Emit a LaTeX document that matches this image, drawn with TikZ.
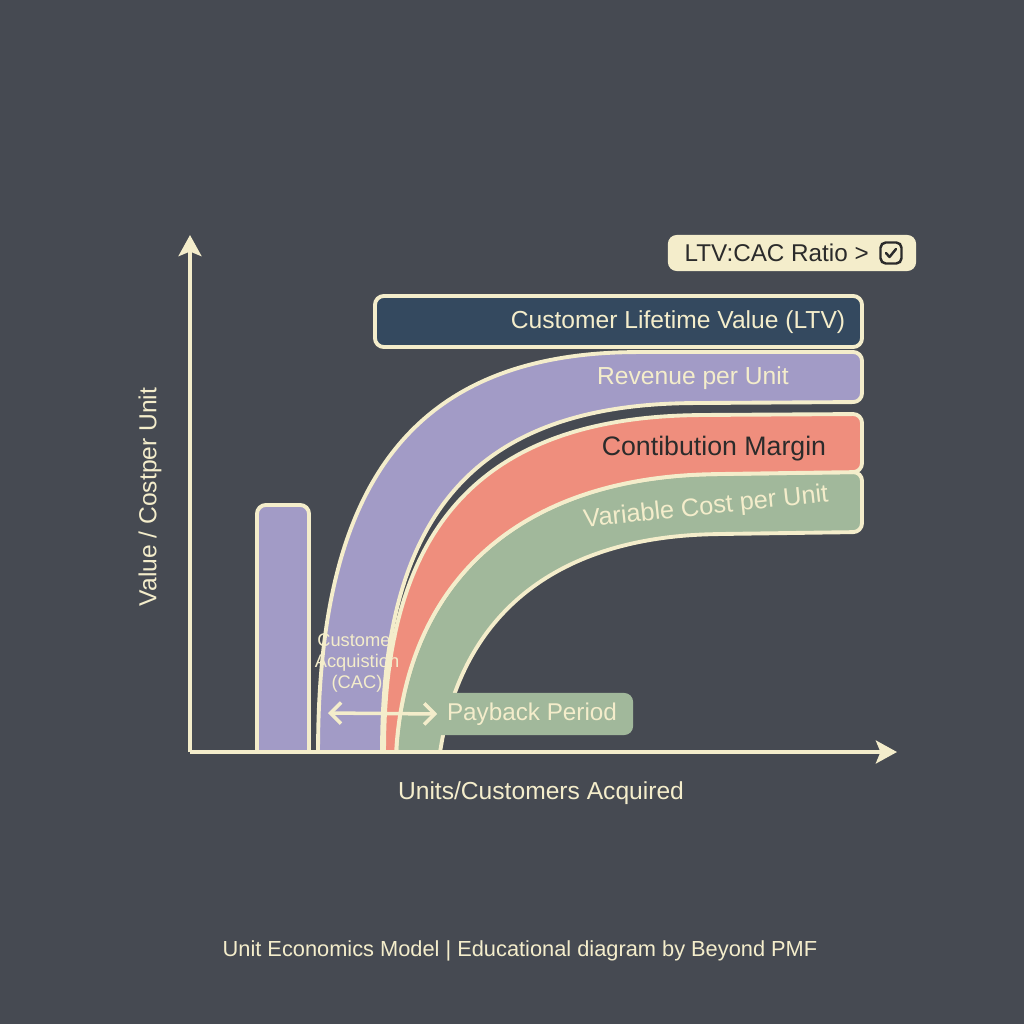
\documentclass[tikz,border=0pt]{standalone}
\usepackage{fontspec}
\setmainfont{Liberation Sans}
\usetikzlibrary{arrows.meta}

\definecolor{bgdark}{HTML}{464A52}
\definecolor{cream}{HTML}{F4EDCB}
\definecolor{lilac}{HTML}{A29BC6}
\definecolor{navy}{HTML}{34495F}
\definecolor{salmon}{HTML}{EF8E7D}
\definecolor{sage}{HTML}{A1B89B}
\definecolor{ink}{HTML}{2B2B2B}

\tikzset{
  band/.style={draw=cream, line width=1.1pt, rounded corners=2.5pt},
  lbl/.style={text=cream, inner sep=0pt, font=\fontsize{7}{8}\selectfont},
  axis/.style={draw=cream, line width=1.1pt, -{Stealth[length=6pt,width=6.5pt,inset=1.3pt]}}
}

\begin{document}
\begin{tikzpicture}[x=0.01cm, y=-0.01cm]
    \fill[bgdark] (0,0) rectangle (1024,1024);
    \useasboundingbox (0,0) rectangle (1024,1024);

    \coordinate (O) at (190,752);
    \coordinate (Ytip) at (190,235);
    \coordinate (Xtip) at (897,752);

    \begin{scope}
    \clip (0,0) rectangle (1024,752);
    \draw[band, fill=lilac] (257,780) -- (257,505) -- (309,505) -- (309,780) -- cycle;

    \draw[band, fill=sage] (396,780) -- (396,752) .. controls (410,580) and (520,478) .. (720,474) -- (862,472)
        -- (862,532) -- (720,534) .. controls (560,538) and (465,610) .. (440,752) -- (436,780) -- cycle;
    \draw[band, fill=salmon] (384,780) -- (384,752) .. controls (386,540) and (470,420) .. (700,415) -- (862,414)
        -- (862,472) -- (720,474) .. controls (520,478) and (410,580) .. (396,752) -- (396,780) -- cycle;
    \draw[band, fill=lilac] (318,780) -- (318,752) .. controls (320,500) and (400,355) .. (640,352) -- (862,352)
        -- (862,402) -- (700,403) .. controls (470,405) and (384,520) .. (382,752) -- (382,780) -- cycle;
    \end{scope}

    \draw[band, fill=navy] (375,296) rectangle (862,347);
    \node[lbl] (ltv) at (678,322) {Customer Lifetime Value (LTV)};
    \node[lbl] (rev) at (693,378) {Revenue per Unit};
    \node[lbl, text=ink, font=\fontsize{7.6}{9}\selectfont] (cm) at (714,449) {Contibution Margin};
    \node[lbl, font=\fontsize{7.2}{9}\selectfont, rotate=6] (vc) at (706,508) {Variable Cost per Unit};

    \node[fill=sage, rounded corners=2.5pt, minimum width=2.03cm, minimum height=0.42cm] (pbox) at (531.5,714) {};
    \node[lbl, font=\fontsize{6.9}{8}\selectfont] (pb) at (532,714) {Payback Period};
    \coordinate (A1) at (328,713);
    \draw[cream, line width=1pt, line cap=round, {Straight Barb[length=3pt,width=6pt]}-{Straight Barb[length=3pt,width=6pt]}] (A1) -- ([xshift=0.08cm]pbox.west);
    \node[lbl, align=center, font=\fontsize{5.2}{6}\selectfont] (cac) at (357,663) {Customer\\Acquistion\\(CAC)};

    \draw[axis] (O) -- (Ytip);
    \draw[axis] (O) -- (Xtip);

    \node[fill=cream, rounded corners=2.5pt, minimum width=2.48cm, minimum height=0.36cm] (ratio) at (792,253) {};
    \node[lbl, text=ink, font=\fontsize{6.9}{8}\selectfont, anchor=west] (rt) at (684,253) {LTV:CAC Ratio >};
    \node[draw=ink, line width=0.7pt, rounded corners=1.5pt, minimum size=0.21cm, inner sep=0pt] (chk) at (891,253) {};
    \draw[ink, line width=0.7pt, line cap=round, line join=round] ([shift={(-5,0)}]chk.center) -- ([shift={(-1.5,4)}]chk.center) -- ([shift={(5,-4)}]chk.center);

    \node[lbl, rotate=90] (ylab) at (150,497) {Value / Costper Unit};
    \node[lbl] (xlab) at (541,793) {Units/Customers Acquired};
    \node[lbl, font=\fontsize{6.2}{8}\selectfont] (foot) at (520,951) {Unit Economics Model | Educational diagram by Beyond PMF};
\end{tikzpicture}
\end{document}
